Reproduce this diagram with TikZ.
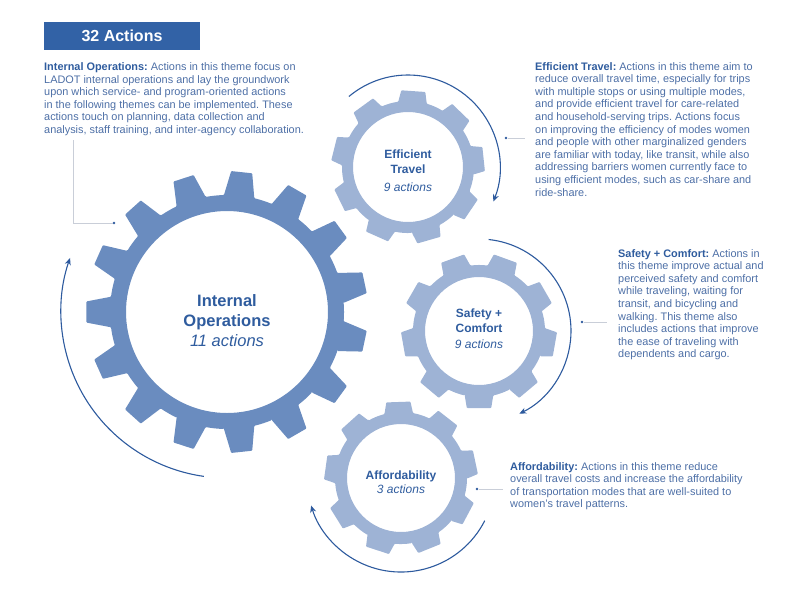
\documentclass[tikz,border=0pt]{standalone}
\usepackage{fontspec}
\setmainfont{Liberation Sans}
\usetikzlibrary{calc,arrows.meta}

\definecolor{deepblue}{HTML}{2F5C9E}
\definecolor{titlefill}{HTML}{3262A6}
\definecolor{biggear}{HTML}{6A8CBF}
\definecolor{smallgear}{HTML}{9EB3D5}
\definecolor{bodyblue}{HTML}{4D6FA6}
\definecolor{calloutgray}{HTML}{C9CED8}
\definecolor{arrowblue}{HTML}{2D5A9E}

% teeth, phase, inner radius, root radius, tip radius, half base, half tip
\newcommand{\gearpath}[7]{%
  ({#2-#6}:#4pt) \foreach \k in {1,...,#1} {
    -- ({#2+(\k-1)*360/#1-#6}:#4pt) -- ({#2+(\k-1)*360/#1-#7}:#5pt)
    -- ({#2+(\k-1)*360/#1+#7}:#5pt) -- ({#2+(\k-1)*360/#1+#6}:#4pt)
    arc[start angle={#2+(\k-1)*360/#1+#6}, end angle={#2+\k*360/#1-#6}, radius=#4pt]
  } -- cycle (0,0) circle[radius=#3pt]}

\tikzset{
    gear/.style = {
        fill           = smallgear,
        even odd rule,
        rounded corners = 0.8pt,
    },
    big gear/.style = {gear, fill=biggear},
    turn/.style = {
        draw       = arrowblue,
        line width = 1.1pt,
        -{Stealth[length=7pt,width=6pt]},
    },
    callout/.style = {draw=calloutgray, line width=0.9pt},
    pin dot/.style = {
        circle,
        fill       = arrowblue,
        inner sep  = 0pt,
        minimum size = 2.6pt,
    },
    blurb/.style = {
        anchor    = north west,
        inner sep = 0pt,
        align     = left,
        text      = bodyblue,
        font      = \fontsize{10.9}{12.6}\selectfont\frenchspacing,
    },
    gear name/.style = {align=center, text=deepblue, inner sep=0pt},
}
\newcommand{\head}[1]{\textcolor{deepblue}{\bfseries #1}}

\begin{document}
\begin{tikzpicture}[x=1pt, y=1pt]
  \useasboundingbox (0,0) rectangle (800,-590);

  % gear centres
  \coordinate (io) at (227,-312);
  \coordinate (et) at (408,-167);
  \coordinate (sc) at (479,-331);
  \coordinate (af) at (401,-478);

  \fill[big gear, shift={(io)}] \gearpath{15}{12}{101}{117}{141}{7.5}{4.3};
  \fill[gear, shift={(et)}] \gearpath{9}{6}{55}{66}{77}{12.5}{9};
  \fill[gear, shift={(sc)}] \gearpath{9}{-10}{54}{66}{78}{12.5}{9};
  \fill[gear, shift={(af)}] \gearpath{9}{12}{54}{66}{77}{12.5}{9};

  \node[gear name, font=\fontsize{16.5}{20}\selectfont] (io name) at (227,-321)
    {\bfseries Internal\\\bfseries Operations\\\itshape 11 actions};
  \node[gear name, font=\fontsize{12}{14.6}\selectfont] (et name) at (408,-171)
    {\bfseries Efficient\\\bfseries Travel\\[4pt]\itshape 9 actions};
  \node[gear name, font=\fontsize{12}{14.6}\selectfont] (sc name) at (479,-329)
    {\bfseries Safety +\\\bfseries Comfort\\[2pt]\itshape 9 actions};
  \node[gear name, font=\fontsize{12}{14.6}\selectfont] (af name) at (401,-482)
    {\bfseries Affordability\\\itshape 3 actions};

  \draw[turn] ($(io)+(262:166pt)$) arc[start angle=262, end angle=161, radius=166pt];
  \draw[turn] ($(et)+(130:92pt)$) arc[start angle=130, end angle=-22, radius=92pt];
  \draw[turn] ($(sc)+(84:92pt)$) arc[start angle=84, end angle=-64, radius=92pt];
  \draw[turn] ($(af)+(-27:94pt)$) arc[start angle=-27, end angle=-163, radius=94pt];

  \node[fill=titlefill, text=white, minimum width=156pt, minimum height=28pt,
        font=\fontsize{16}{19}\selectfont\bfseries] (title) at (122,-36) {32 Actions};

  \node[blurb] (io text) at (44,-62.4) {\head{Internal Operations:} Actions in this theme focus on\\
    LADOT internal operations and lay the groundwork\\
    upon which service- and program-oriented actions\\
    in the following themes can be implemented. These\\
    actions touch on planning, data collection and\\
    analysis, staff training, and inter-agency collaboration.};
  \node[blurb] (et text) at (535,-62) {\head{Efficient Travel:} Actions in this theme aim to\\
    reduce overall travel time, especially for trips\\
    with multiple stops or using multiple modes,\\
    and provide efficient travel for care-related\\
    and household-serving trips. Actions focus\\
    on improving the efficiency of modes women\\
    and people with other marginalized genders\\
    are familiar with today, like transit, while also\\
    addressing barriers women currently face to\\
    using efficient modes, such as car-share and\\
    ride-share.};
  \node[blurb] (sc text) at (618,-249) {\head{Safety + Comfort:} Actions in\\
    this theme improve actual and\\
    perceived safety and comfort\\
    while traveling, waiting for\\
    transit, and bicycling and\\
    walking. This theme also\\
    includes actions that improve\\
    the ease of traveling with\\
    dependents and cargo.};
  \node[blurb] (af text) at (510,-462) {\head{Affordability:} Actions in this theme reduce\\
    overall travel costs and increase the affordability\\
    of transportation modes that are well-suited to\\
    women's travel patterns.};

  % callout leaders
  \coordinate (io tail) at (73,-140);
  \coordinate (et tail) at (525,-138);
  \coordinate (sc tail) at (607,-322);
  \coordinate (af tail) at (503,-489);
  \node[pin dot] (io pin) at (114,-223) {};
  \node[pin dot] (et pin) at (506,-138) {};
  \node[pin dot] (sc pin) at (582,-322) {};
  \node[pin dot] (af pin) at (477,-489) {};
  \draw[callout] (io tail) |- (io pin);
  \draw[callout] (et pin) -- (et tail);
  \draw[callout] (sc pin) -- (sc tail);
  \draw[callout] (af pin) -- (af tail);
\end{tikzpicture}
\end{document}
